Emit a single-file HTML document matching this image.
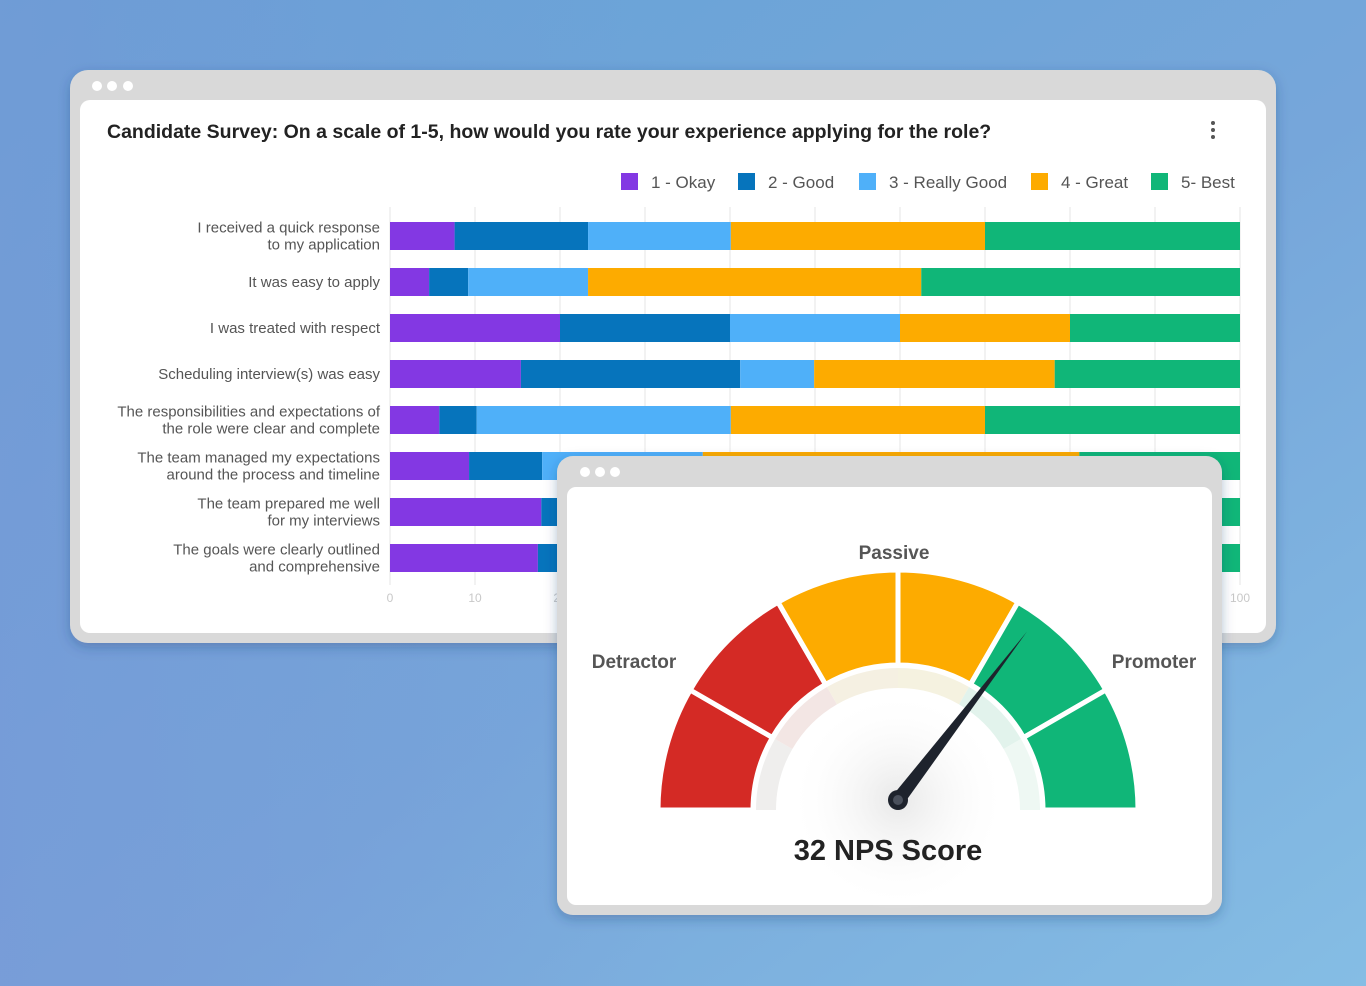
<!DOCTYPE html>
<html><head><meta charset="utf-8">
<style>
html,body{margin:0;padding:0;width:1366px;height:986px;overflow:hidden;font-family:"Liberation Sans",sans-serif;}
svg{display:block}
</style></head>
<body>
<svg id="root" width="1366" height="986" viewBox="0 0 1366 986" xmlns="http://www.w3.org/2000/svg">
<defs>
<linearGradient id="bg" x1="0" y1="0" x2="1" y2="1">
<stop offset="0" stop-color="#64a3d6"/><stop offset="0.55" stop-color="#76a6da"/><stop offset="1" stop-color="#85bde4"/>
</linearGradient>
<linearGradient id="bg2" x1="0" y1="0" x2="1" y2="0">
<stop offset="0" stop-color="#7b94d6" stop-opacity="0.5"/><stop offset="0.5" stop-color="#7b94d6" stop-opacity="0"/>
</linearGradient>
<filter id="sh" x="-10%" y="-10%" width="120%" height="130%"><feDropShadow dx="0" dy="4" stdDeviation="6" flood-color="#1d3a6a" flood-opacity="0.3"/></filter>
<radialGradient id="hub" cx="0.5" cy="0.5" r="0.5"><stop offset="0" stop-color="#e8e8e8"/><stop offset="1" stop-color="#fff" stop-opacity="0"/></radialGradient>
</defs>
<rect width="1366" height="986" fill="url(#bg)"/>
<rect width="1366" height="986" fill="url(#bg2)"/>

<g filter="url(#sh)">
<rect x="70" y="70" width="1206" height="573" rx="18" fill="#d9d9d9"/>
<rect x="80" y="100" width="1186" height="533" rx="10" fill="#fff"/>
</g>
<g fill="#fff">
<circle cx="97" cy="86" r="5"/><circle cx="112" cy="86" r="5"/><circle cx="128" cy="86" r="5"/>
</g>
<text x="107" y="138" font-size="19.5" font-weight="bold" fill="#222">Candidate Survey: On a scale of 1-5, how would you rate your experience applying for the role?</text>
<g fill="#555">
<circle cx="1213" cy="123" r="2"/><circle cx="1213" cy="130" r="2"/><circle cx="1213" cy="137" r="2"/>
</g>
<g id="legend"></g>
<g id="grid"></g>
<g id="bars"></g>
<g id="ylabels"></g>
<g id="xticks"></g>

<g filter="url(#sh)">
<rect x="557" y="456" width="665" height="459" rx="16" fill="#d9d9d9"/>
<rect x="567" y="487" width="645" height="418" rx="9" fill="#fff"/>
</g>
<g fill="#fff">
<circle cx="585" cy="472" r="5"/><circle cx="600" cy="472" r="5"/><circle cx="615" cy="472" r="5"/>
</g>
<circle cx="898" cy="800" r="110" fill="url(#hub)"/>
<g id="gauge"></g>
<text x="634" y="668" font-size="19" fill="#555" text-anchor="middle" font-weight="bold">Detractor</text>
<text x="894" y="559" font-size="19" fill="#555" text-anchor="middle" font-weight="bold">Passive</text>
<text x="1154" y="668" font-size="19" fill="#555" text-anchor="middle" font-weight="bold">Promoter</text>
<text x="888" y="860" font-size="29" fill="#222" text-anchor="middle" font-weight="bold">32 NPS Score</text>
</svg>
<script>
const NS='http://www.w3.org/2000/svg';
const categories=["I received a quick response|to my application","It was easy to apply","I was treated with respect","Scheduling interview(s) was easy","The responsibilities and expectations of|the role were clear and complete","The team managed my expectations|around the process and timeline","The team prepared me well|for my interviews","The goals were clearly outlined|and comprehensive"];
const seriesNames=["1 - Okay","2 - Good","3 - Really Good","4 - Great","5- Best"];
const okay=[7.6,4.6,20,15.4,5.8,9.3,17.8,17.4];
const good=[15.7,4.6,20,25.8,4.4,8.6,10,12];
const reallyGood=[16.8,14.1,20,8.7,29.9,18.9,20,20];
const great=[29.9,39.2,20,28.3,29.9,44.3,40,38];
const best=[30,37.5,20,21.8,30,18.9,12.2,12.6];
const xTicks=[0,10,20,30,40,50,60,70,80,90,100];
const npsScore=32;
const colors=["#8338e3","#0674bc","#4fb0f9","#fdab00","#10b678"];
const series=[okay,good,reallyGood,great,best];
const X0=390,X1=1240;
const xs=v=>X0+(X1-X0)*v/100;
const rowY=i=>222+i*46;
const BH=28;
function mk(tag,attrs,parent){const e=document.createElementNS(NS,tag);for(const k in attrs)e.setAttribute(k,attrs[k]);parent.appendChild(e);return e;}
const grid=document.getElementById('grid');
xTicks.forEach(t=>{
  const l=mk('line',{x1:xs(t),x2:xs(t),y1:207,y2:585,stroke:'#e6e6e6','stroke-width':1},grid);
  
  
  const tx=mk('text',{x:xs(t),y:602,'font-size':12,fill:'#c8c8c8','text-anchor':'middle'},document.getElementById('xticks'));
  tx.textContent=t;
  
  
});
const bars=document.getElementById('bars');
categories.forEach((c,i)=>{
  let acc=0;
  series.forEach((s,j)=>{
    const r=mk('rect',{x:xs(acc),y:rowY(i),width:xs(acc+s[i])-xs(acc),height:BH,fill:colors[j]},bars);
    
    
    acc+=s[i];
  });
  const parts=c.split('|');
  const t=mk('text',{x:380,'font-size':15,fill:'#555','text-anchor':'end'},document.getElementById('ylabels'));
  
  
  const cy=rowY(i)+BH/2;
  parts.forEach((p,k)=>{
    const ts=mk('tspan',{x:380,y:cy+5+(k-(parts.length-1)/2)*17},t);ts.textContent=p;
  });
});
const legend=document.getElementById('legend');
const lx=[621,738,859,1031,1151];
seriesNames.forEach((n,j)=>{
  const g=mk('g',{},legend);
  
  
  mk('rect',{x:lx[j],y:173,width:17,height:17,fill:colors[j]},g);
  const t=mk('text',{x:lx[j]+30,y:188,'font-size':17,fill:'#555'},g);t.textContent=n;
});
// gauge
const gauge=document.getElementById('gauge');
const CX=898,CY=810,RO=240,RI=145,RP=122;
const segCols=["#d42a25","#d42a25","#fdab00","#fdab00","#10b678","#10b678"];
const paleCols=["#efeeed","#f3e6e4","#f5f0e2","#f5f2e0","#e2f3ec","#eef8f3"];
function pt(r,a){return [CX+r*Math.cos(a),CY-r*Math.sin(a)];}
function arc(r1,r2,a1,a2){const p1=pt(r2,a1),p2=pt(r2,a2),p3=pt(r1,a2),p4=pt(r1,a1);
 return `M${p1} A${r2},${r2} 0 0 1 ${p2} L${p3} A${r1},${r1} 0 0 0 ${p4}Z`;}
for(let k=0;k<6;k++){
  const a1=Math.PI-k*Math.PI/6,a2=Math.PI-(k+1)*Math.PI/6;
  const p=mk('path',{d:arc(RP,RI-3,a1,a2),fill:paleCols[k]},gauge);
  
  
}
for(let k=0;k<6;k++){
  const a1=Math.PI-k*Math.PI/6,a2=Math.PI-(k+1)*Math.PI/6;
  const s=mk('path',{d:arc(RI,RO,a1,a2),fill:segCols[k],stroke:'#fff','stroke-width':5,'stroke-linejoin':'round'},gauge);
  
  
}
// needle angle from score
const ang=Math.PI/2*(1-npsScore/100*1.3);
const NX=898,NY=800,NL=212;
const tx=NX+NL*Math.cos(ang),ty=NY-NL*Math.sin(ang);
const px=-Math.sin(ang)*7,py=-Math.cos(ang)*7;
const needle=mk('path',{d:`M${NX+px},${NY+py} L${tx},${ty} L${NX-px},${NY-py}Z`,fill:'#1e232d'},gauge);


const hub=mk('circle',{cx:NX,cy:NY,r:10,fill:'#1e232d'},gauge);


mk('circle',{cx:NX,cy:NY,r:5,fill:'#4a505c'},gauge);
</script>
</body></html>
